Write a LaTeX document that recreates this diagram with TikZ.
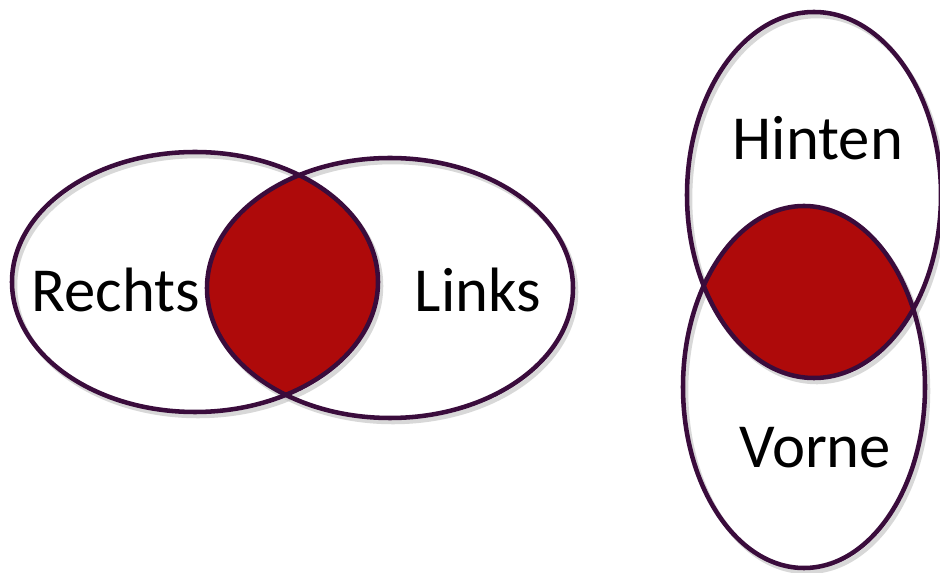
\documentclass[tikz,border=0pt]{standalone}
\usepackage{fontspec}
\setmainfont{Carlito}
\definecolor{rim}{HTML}{3A0C3C}
\definecolor{lensred}{HTML}{AE0A0A}
\begin{document}
\begin{tikzpicture}[x=0.75pt,y=-0.75pt,
		rimline/.style={draw=rim,line width=3.4pt},
		shadowline/.style={draw=black!25,line width=3.4pt,opacity=0.6},
		word/.style={font=\fontsize{47}{50}\selectfont,inner sep=0pt,text=black}
		]
		\useasboundingbox[fill=white] (0,0) rectangle (940,573);
		
		% left pair
		\draw[shadowline] (198,286) ellipse [x radius=183,y radius=130];
		\draw[shadowline] (393,292) ellipse [x radius=183,y radius=130];
		\begin{scope}
			\clip (195,282) ellipse [x radius=183,y radius=130];
			\fill[lensred] (390,288) ellipse [x radius=183,y radius=130];
		\end{scope}
		\draw[rimline] (195,282) ellipse [x radius=183,y radius=130];
		\draw[rimline] (390,288) ellipse [x radius=183,y radius=130];
		\node[word] (rechts) at (116,290) {Rechts};
		\node[word] (links) at (478,290) {Links};
		
		% right pair
		\draw[shadowline] (817,199) ellipse [x radius=127,y radius=183];
		\draw[shadowline] (807,391) ellipse [x radius=121,y radius=181];
		\begin{scope}
			\clip (814,195) ellipse [x radius=127,y radius=183];
			\fill[lensred] (804,387) ellipse [x radius=121,y radius=181];
		\end{scope}
		\draw[rimline] (814,195) ellipse [x radius=127,y radius=183];
		\draw[rimline] (804,387) ellipse [x radius=121,y radius=181];
		\node[word] (hinten) at (818,138) {Hinten};
		\node[word] (vorne) at (815,448) {Vorne};
		\end{tikzpicture}
\end{document}
